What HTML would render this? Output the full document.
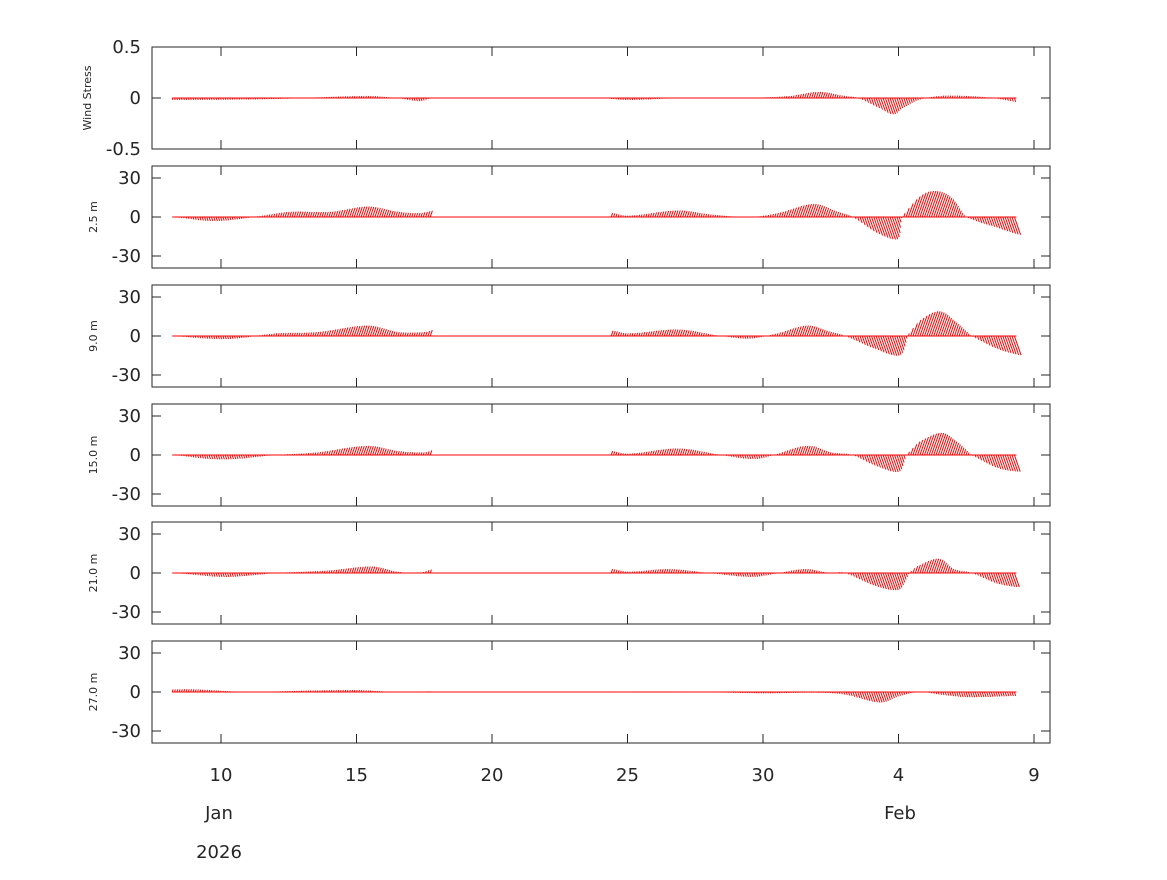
<!DOCTYPE html>
<html><head><meta charset="utf-8"><style>
body{margin:0;background:#fff}
svg text{font-family:"DejaVu Sans","Liberation Sans",sans-serif;fill:#262626}
</style></head><body>
<svg id="s" width="1167" height="875" xmlns="http://www.w3.org/2000/svg"></svg>
<script>
const S=document.getElementById('s');let h='';
const X=t=>221+(t-10)*27.1;
const L=152,R=1050;
const panels=[
 {top:47,lab:'Wind Stress',ticks:[['0.5',0.5],['0',0],['-0.5',-0.5]],sc:102,
  d:[[[8.2,-0.02],[12,-0.01],[15.3,0.02],[16.5,0],[17.3,-0.03],[17.8,0]],[[24.4,-0.01],[25,-0.02],[27,0],[29.5,0],[31,0.02],[32,0.06],[33,0.02],[33.5,0],[34.2,-0.1],[34.6,-0.16],[35,-0.1],[35.7,-0.02],[36.5,0.02],[37.5,0.02],[38.5,0],[39.35,-0.04]]]},
 {top:166,lab:'2.5 m',d:[[[8.2,0],[9.5,-3],[10.5,-2],[11.5,1],[12.5,4],[14,4],[15.3,8],[16.5,4],[17.3,3],[17.8,5]],[[24.4,3],[25,1],[26.8,5],[28,2],[29.5,0],[30.5,3],[31.7,10],[32.7,4],[33.3,0],[34,-12],[34.7,-17],[35,-5],[35.5,15],[36,20],[36.7,15],[37.5,0],[38.5,-8],[39.35,-14]]]},
 {top:285,lab:'9.0 m',d:[[[8.2,0],[9.5,-2],[10.5,-2],[12,2],[13.5,3],[15.3,8],[16.5,3],[17.5,3],[17.8,5]],[[24.4,4],[25,2],[26.8,5],[28.5,0],[29.5,-2],[30.5,2],[31.5,8],[32.5,3],[33,0],[34,-10],[34.8,-15],[35.2,-5],[35.6,12],[36.2,19],[37,10],[37.7,0],[38.5,-10],[39.35,-15]]]},
 {top:404,lab:'15.0 m',d:[[[8.2,0],[9.5,-3],[10.5,-3],[12,0],[13.5,2],[15.3,7],[16.5,3],[17.5,2],[17.8,4]],[[24.4,3],[25,1],[26.8,5],[28.5,0],[29.5,-3],[30.2,-1],[31.5,7],[32.5,2],[33.3,0],[34,-8],[34.8,-13],[35.2,-3],[35.6,10],[36.3,17],[37,10],[37.7,0],[38.5,-10],[39.35,-13]]]},
 {top:522,lab:'21.0 m',d:[[[8.2,0],[10,-3],[11,-2],[12,0],[14,2],[15.5,5],[16.5,1],[17.3,0],[17.8,3]],[[24.4,3],[25,1],[26.5,3],[28,0],[29.5,-3],[30.3,-1],[31.5,3],[32.5,0],[33,0],[34,-10],[34.8,-13],[35.2,-5],[35.6,5],[36.3,11],[37,3],[37.7,0],[38.5,-8],[39.35,-11]]]},
 {top:641,lab:'27.0 m',d:[[[8.2,2],[9,2],[11,0],[13,1],[15,1.5],[16.5,0],[17.8,0.5]],[[24.4,0.3],[27,0.3],[30,-1],[32,-0.5],[33,-2],[34.2,-8],[35,-3],[35.8,0],[36.5,-2],[37.5,-4],[39.35,-3]]]}
];
function interp(p,t){const n=p.length;for(let i=0;i<n-1;i++){if(t>=p[i][0]&&t<=p[i+1][0]){
 const f=(t-p[i][0])/(p[i+1][0]-p[i][0]);
 const y0=p[Math.max(i-1,0)][1],y1=p[i][1],y2=p[i+1][1],y3=p[Math.min(i+2,n-1)][1];
 return 0.5*((2*y1)+(-y0+y2)*f+(2*y0-5*y1+4*y2-y3)*f*f+(-y0+3*y1-3*y2+y3)*f*f*f);}}return 0;}
const xt=[[10,'10'],[15,'15'],[20,'20'],[25,'25'],[30,'30'],[35,'4'],[40,'9']];
panels.forEach(P=>{
 const b=P.top+102,y0=P.top+51,sc=P.sc||1.3;
 const ticks=P.ticks||[['30',30],['0',0],['-30',-30]];
 h+=`<line x1="${X(8.2)}" y1="${y0}" x2="${X(39.35)}" y2="${y0}" stroke="red" stroke-width="1"/>`;
 P.d.forEach(seg=>{const a=seg[0][0],e=seg[seg.length-1][0];
  for(let t=a;t<=e+1e-6;t+=0.085){const v=interp(seg,t)*sc;const x=X(t);
   h+=`<line x1="${x.toFixed(1)}" y1="${y0}" x2="${(x+Math.abs(v)*0.35).toFixed(1)}" y2="${(y0-v).toFixed(1)}" stroke="red" stroke-width="1"/>`;}});
 h+=`<rect x="${L}" y="${P.top}" width="${R-L}" height="102" fill="none" stroke="#262626" stroke-width="1"/>`;
 ticks.forEach(([s,v])=>{const y=y0-v*sc;
  h+=`<line x1="${L}" y1="${y}" x2="${L+9}" y2="${y}" stroke="#262626"/><line x1="${R}" y1="${y}" x2="${R-9}" y2="${y}" stroke="#262626"/>`;
  h+=`<text x="141" y="${y+6}" font-size="18" text-anchor="end">${s}</text>`;});
 xt.forEach(([t])=>{const x=X(t);h+=`<line x1="${x}" y1="${P.top}" x2="${x}" y2="${P.top+9}" stroke="#262626"/><line x1="${x}" y1="${b}" x2="${x}" y2="${b-9}" stroke="#262626"/>`;});
 h+=`<text transform="translate(${P.lab=='Wind Stress'?91:97},${y0}) rotate(-90)" font-size="11" text-anchor="middle">${P.lab}</text>`;
});
xt.forEach(([t,s])=>{h+=`<text x="${X(t)}" y="781" font-size="18" text-anchor="middle">${s}</text>`;});
h+=`<text x="219" y="819" font-size="18" text-anchor="middle">Jan</text><text x="900" y="819" font-size="18" text-anchor="middle">Feb</text><text x="219" y="858" font-size="18" text-anchor="middle">2026</text>`;
S.innerHTML=h;
</script>
</body></html>
